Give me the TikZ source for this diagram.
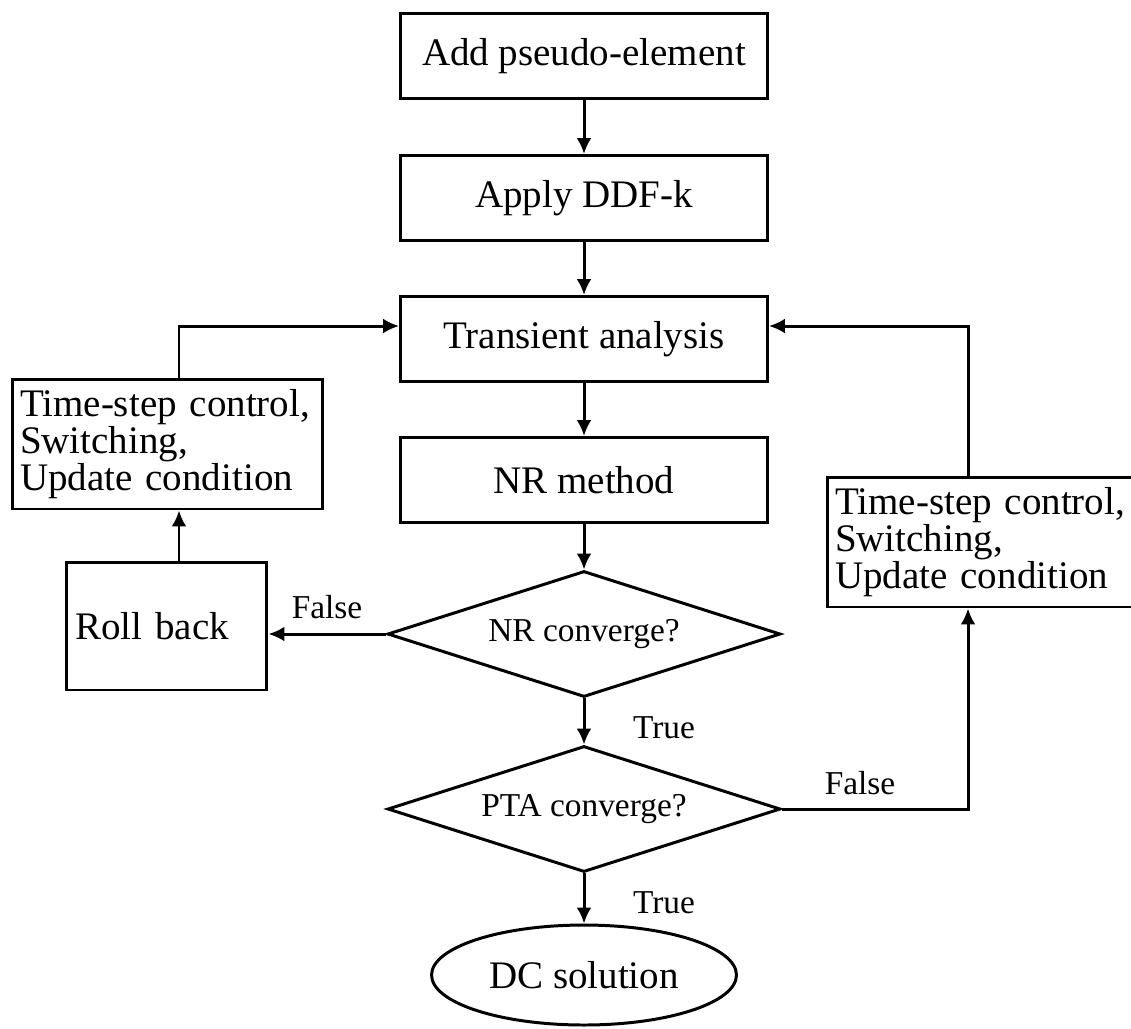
\documentclass[tikz,border=0pt]{standalone}
\usepackage{fontspec}
\setmainfont{Liberation Serif}
\usetikzlibrary{shapes.geometric,arrows.meta}
\begin{document}
\begin{tikzpicture}[x=0.02cm, y=-0.02cm, >={Latex[length=0.32cm,width=0.3cm]}, line width=1.7pt]
	\tikzset{
		stepbox/.style={draw, rectangle, minimum width=7.34cm, minimum height=1.7cm, inner sep=0,
				font=\fontsize{22.2pt}{26pt}\selectfont},
		sidebox/.style={draw, rectangle, text width=5.9cm, inner xsep=0.16cm, inner ysep=0,
				minimum height=2.6cm, align=left, font=\fontsize{22.2pt}{19pt}\selectfont},
		rollbox/.style={draw, rectangle, text width=3.66cm, inner xsep=0.18cm, inner ysep=0,
				minimum height=2.56cm, align=left, font=\fontsize{22.2pt}{26pt}\selectfont},
		check/.style={draw, diamond, aspect=3.1, minimum width=7.86cm, minimum height=2.52cm, inner sep=0,
				font=\fontsize{19pt}{22pt}\selectfont},
		finish/.style={draw, ellipse, minimum width=6.1cm, minimum height=2cm, inner sep=0,
				font=\fontsize{22.2pt}{26pt}\selectfont},
		lbl/.style={anchor=base, inner sep=0, font=\fontsize{19pt}{22pt}\selectfont},
	}
	\useasboundingbox (0,0) rectangle (1131,1028);
	% main column
	\node[stepbox] (add) at (584,56) {Add pseudo-element};
	\node[stepbox] (ddf) at (584,198) {Apply DDF-k};
	\node[stepbox] (trans) at (584,339) {Transient analysis};
	\node[stepbox] (nr) at (584,480) {NR method};
	\node[check] (nrok) at (584,634) {NR converge?};
	\node[check] (ptaok) at (584,809) {PTA converge?};
	\node[finish] (dc) at (584,975) {DC solution};
	% side branches
	\node[sidebox] (leftupd) at (167.5,444) {Time-step control,\\Switching,\\Update condition};
	\node[rollbox] (roll) at (166.5,626) {Roll back};
	\node[sidebox] (rightupd) at (982.5,542) {Time-step control,\\Switching,\\Update condition};
	\coordinate (lx) at (179,326);
	\coordinate (rx) at (968,326);
	% labels
	\node[lbl] (nrno) at (327,618) {False};
	\node[lbl] (nryes) at (664,738) {True};
	\node[lbl] (ptayes) at (664,913) {True};
	\node[lbl] (ptano) at (860,794) {False};
	% connectors
	\foreach \a/\b in {add/ddf, ddf/trans, trans/nr, nr/nrok, nrok/ptaok, ptaok/dc}
		\draw[->] (\a) -- (\b);
	\draw[->] (nrok.west) -- (nrok.west -| roll.east);
	\draw[->] (roll.north -| lx) -- (leftupd.south -| lx);
	\draw[->] (leftupd.north -| lx) -- (lx) -- (trans.west |- lx);
	\draw[->] (ptaok.east) -| (rightupd.south -| rx);
	\draw[->] (rightupd.north -| rx) -- (rx) -- (trans.east |- rx);
\end{tikzpicture}
\end{document}
